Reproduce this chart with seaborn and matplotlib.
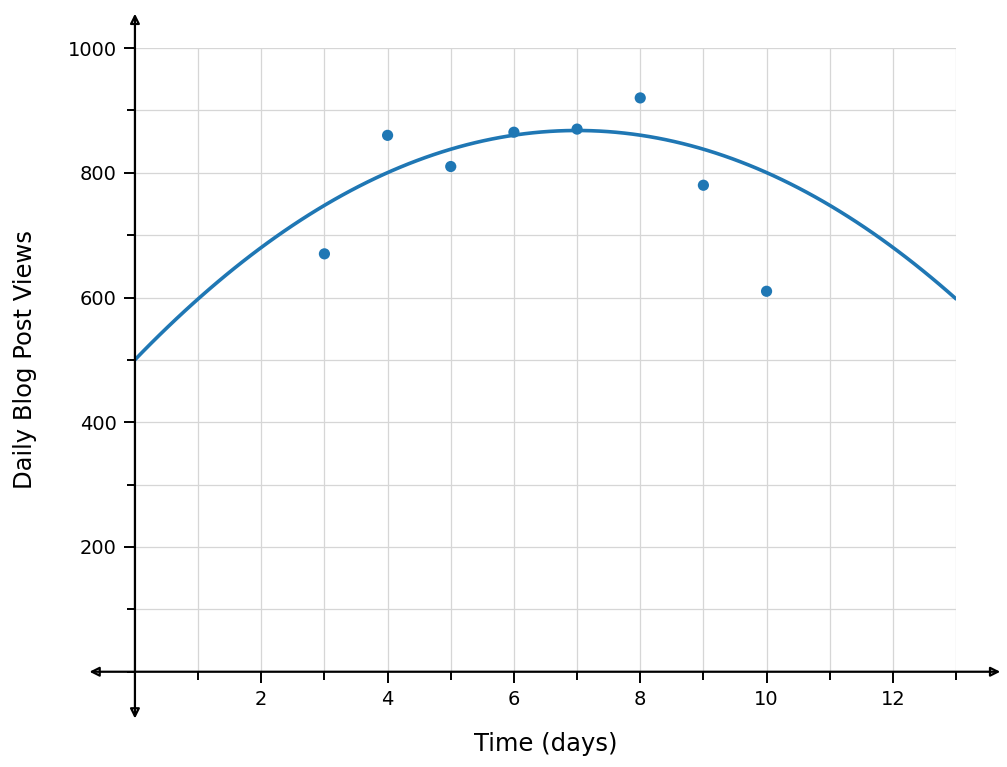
import numpy as np
import pandas as pd
import matplotlib
matplotlib.use("Agg")
import matplotlib.pyplot as plt
import seaborn as sns
from matplotlib.ticker import MultipleLocator

# observed daily views
days = [3, 4, 5, 6, 7, 8, 9, 10]
views = [670, 860, 810, 865, 870, 920, 780, 610]

# trend curve at each day
curve_days = [0, 1, 2, 3, 4, 5, 6, 7, 8, 9, 10, 11, 12, 13]
curve_views = [500, 598, 680, 748, 800, 838, 860, 868, 860, 838, 800, 748, 680, 598]

x_ticks = [2, 4, 6, 8, 10, 12]
y_ticks = [200, 400, 600, 800, 1000]

sns.set_style("white")
plt.rcParams['font.family'] = ['DejaVu Sans']
plt.rcParams['text.color'] = 'black'
plt.rcParams['axes.labelcolor'] = 'black'

fig = plt.figure(figsize=(10.07, 7.67), dpi=100)
ax = fig.add_axes([0.134, 0.1242, 0.8154, 0.8132])

blue = "#1f77b4"
# smooth trend through the read curve values
sns.regplot(x=curve_days, y=curve_views, order=2, scatter=False, ci=None, ax=ax,
            line_kws=dict(color=blue, linewidth=2.6))
sns.scatterplot(x=days, y=views, ax=ax, color=blue, s=65, edgecolor="none", zorder=3)

ax.set_xlim(0, 13)
ax.set_ylim(0, 1000)
ax.set_xticks(x_ticks)
ax.set_yticks(y_ticks)
ax.xaxis.set_minor_locator(MultipleLocator(1))
ax.yaxis.set_minor_locator(MultipleLocator(100))
ax.grid(True, which="both", color="#d6d6d6", linewidth=0.9)
ax.set_axisbelow(True)

for s in ax.spines.values():
    s.set_visible(False)

ax.tick_params(axis="both", which="both", bottom=True, left=True, top=False, right=False,
               direction="out", color="black", labelcolor="black")
ax.tick_params(axis="both", which="major", length=8, width=1.4, labelsize=14, pad=5)
ax.tick_params(axis="both", which="minor", length=5.5, width=1.4)

# axis lines with arrows
ax.annotate("", xy=(13.7, 0), xytext=(-0.72, 0), annotation_clip=False,
            arrowprops=dict(arrowstyle="<|-|>", color="black", lw=1.6,
                            mutation_scale=14, shrinkA=0, shrinkB=0, fill=False))
ax.annotate("", xy=(0, 1055), xytext=(0, -75), annotation_clip=False,
            arrowprops=dict(arrowstyle="<|-|>", color="black", lw=1.6,
                            mutation_scale=14, shrinkA=0, shrinkB=0, fill=False))

ax.set_xlabel("Time (days)", fontsize=17.5, labelpad=17)
ax.set_ylabel("Daily Blog Post Views", fontsize=17.5, labelpad=22)

fig.savefig("out.png", dpi=100)
